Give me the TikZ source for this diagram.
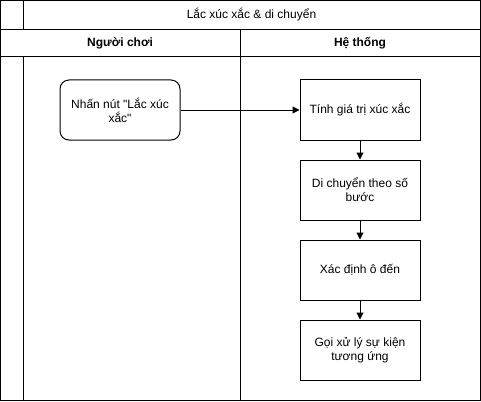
\documentclass[tikz,border=0pt]{standalone}
\usepackage{fontspec}
\setmainfont{Liberation Sans}[Ligatures=TeXOff]
\usetikzlibrary{arrows.meta}
\begin{document}
\begin{tikzpicture}[x=1pt,y=-1pt,line width=1pt,
  box/.style={draw,minimum width=120pt,minimum height=60pt,align=center,font=\fontsize{12pt}{14pt}\selectfont,inner sep=0pt},
  rbox/.style={box,rounded corners=9pt},
  lbl/.style={font=\fontsize{12pt}{14pt}\selectfont,inner sep=0pt},
  hdr/.style={font=\bfseries\fontsize{12pt}{14pt}\selectfont,inner sep=0pt},
  arr/.style={-{Triangle[width=7pt,length=7pt]},line width=1pt}]
\useasboundingbox (0,0) rectangle (481,401);
\draw (0.5,0.5) rectangle (480.5,400.5);
\draw (0.5,30) -- (480.5,30);
\draw (0.5,57) -- (480.5,57);
\draw (23,0.5) -- (23,30);
\draw (23,57) -- (23,400.5);
\draw (240,30) -- (240,400.5);
\node[lbl] (title) at (251.5,15) {Lắc xúc xắc \& di chuyển};
\node[hdr] (h1) at (120,43.5) {Người chơi};
\node[hdr] (h2) at (360,43.5) {Hệ thống};
\node[rbox] (a) at (120,110) {Nhấn nút "Lắc xúc\\xắc"};
\node[box] (b) at (360,110) {Tính giá trị xúc xắc};
\node[box] (c) at (360,190) {Di chuyển theo số\\bước};
\node[box] (d) at (360,270) {Xác định ô đến};
\node[box] (e) at (360,350) {Gọi xử lý sự kiện\\tương ứng};
\draw[arr] (a) -- (b);
\draw[arr] (b) -- (c);
\draw[arr] (c) -- (d);
\draw[arr] (d) -- (e);
\end{tikzpicture}
\end{document}
